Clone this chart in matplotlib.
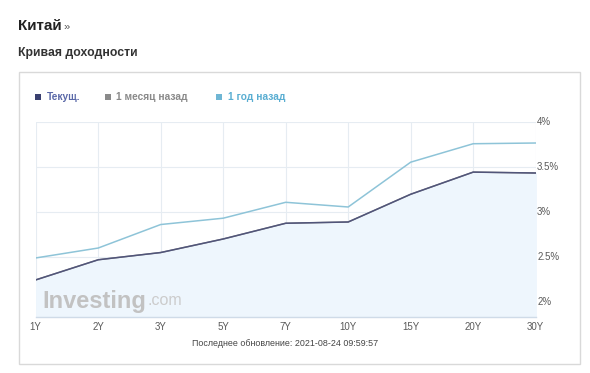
import matplotlib
matplotlib.use("Agg")
import matplotlib.pyplot as plt
from matplotlib.patches import Rectangle

plt.rcParams['font.family'] = ['Liberation Sans', 'DejaVu Sans']

categories = ["1Y", "2Y", "3Y", "5Y", "7Y", "10Y", "15Y", "20Y", "30Y"]
current = [2.247, 2.47, 2.55, 2.70, 2.874, 2.888, 3.195, 3.44, 3.43]
month_ago = [2.247, 2.47, 2.55, 2.70, 2.874, 2.888, 3.195, 3.44, 3.43]
year_ago = [2.49, 2.60, 2.86, 2.93, 3.106, 3.054, 3.55, 3.754, 3.762]
ytick_vals = [2.0, 2.5, 3.0, 3.5, 4.0]
ytick_labels = ["2%", "2.5%", "3%", "3.5%", "4%"]

W, H = 590, 373
fig = plt.figure(figsize=(W / 100, H / 100), dpi=100)
fig.patch.set_facecolor("white")

def fx(px):
    return px / W

def fy(py):
    return 1 - py / H

# outer box
fig.patches.append(Rectangle((fx(18.5), fy(364)), fx(580) - fx(18.5), fy(72.3) - fy(364),
                             transform=fig.transFigure, fill=False, edgecolor="#d9d9d9", lw=1))

# titles
fig.text(fx(18), fy(26), "Китай", fontsize=11, fontweight="bold", color="#222222", va="center")
fig.text(fx(64), fy(27), "»", fontsize=8, color="#555555", va="center")
fig.text(fx(18), fy(53), "Кривая доходности", fontsize=8.8, fontweight="bold", color="#333333", va="center")

# legend
leg = [(35, "Текущ.", "#3a4070", "#5a68a8"),
       (105, "1 месяц назад", "#8a8a8a", "#8a8a8a"),
       (216, "1 год назад", "#6fb6d4", "#5aaed2")]
for x, lab, sq, tc in leg:
    fig.patches.append(Rectangle((fx(x), fy(99.5)), 6 / W, 6 / H, transform=fig.transFigure,
                                 facecolor=sq, edgecolor="none"))
    fig.text(fx(x + 11.5), fy(96.5), lab, fontsize=7.3, fontweight="bold", color=tc, va="center")

# main axes
left, right = 35.7, 535.7
top, bottom = 121.5, 316.7
ax = fig.add_axes([fx(left), fy(bottom), (right - left) / W, (bottom - top) / H])
xs = list(range(len(categories)))
ax.set_xlim(0, len(categories) - 1)
ax.set_ylim(1.84, 4.0)

ax.fill_between(xs, current, 1.84, color="#eef6fd", zorder=1)
ax.plot(xs, month_ago, color="#8a8a8a", lw=1.0, zorder=2)
ax.plot(xs, year_ago, color="#8ec4d8", lw=1.1, zorder=3)
ax.plot(xs, current, color="#51557a", lw=1.1, zorder=4)

ax.set_xticks(xs)
ax.set_xticklabels(categories)
ax.set_yticks(ytick_vals)
ax.set_yticklabels(ytick_labels)
ax.yaxis.tick_right()
ax.tick_params(axis="both", length=0, labelsize=7, labelcolor="#5a5a5a")
ax.tick_params(axis="x", pad=4)
ax.tick_params(axis="y", pad=1)
for lbl in ax.get_yticklabels():
    lbl.set_verticalalignment("center")
ax.grid(True, color="#e6ecf2", lw=0.8, zorder=0)
ax.set_axisbelow(True)
for s in ["top", "right", "left"]:
    ax.spines[s].set_visible(False)
ax.spines["bottom"].set_color("#cfdbe8")
ax.spines["bottom"].set_linewidth(1)

# watermark
wm = ax.text(0.014, 0.045, "Investing", transform=ax.transAxes, fontsize=17, fontweight="bold",
             color="#c2c2c2", zorder=5, va="baseline")
ax.annotate(".com", xy=(1, 0), xycoords=wm, xytext=(0.5, 3.2), textcoords="offset points",
            fontsize=11.5, color="#cccccc", zorder=5, va="bottom", ha="left")

fig.text(fx(285.5), fy(343), "Последнее обновление: 2021-08-24 09:59:57", fontsize=6.4,
         color="#444444", ha="center", va="center")

fig.savefig("out.png", dpi=100, facecolor="white")
